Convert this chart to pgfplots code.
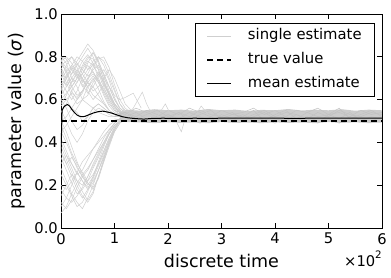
\documentclass[border=0pt]{standalone}
\usepackage{fontspec}
\setmainfont{DejaVu Sans}
\usepackage{pgfplots}
\usepackage{pgfplotstable}
\pgfplotsset{compat=1.18}
\definecolor{trc}{rgb}{0.81,0.81,0.81}
\definecolor{bandc}{rgb}{0.80,0.80,0.80}
\definecolor{tailc}{rgb}{0.76,0.76,0.76}

\pgfplotstableread{
name c0 c1 c2 c3 c4 c5 c6 c7 c8 c9 c10 c11 c12 c13 c14
t   0   10  20  30  40  50  60  70  80  90  100 110 120 135 150
U1  .78 .75 .72 .76 .80 .84 .80 .74 .68 .63 .58 .55 .53 .52 .52
U2  .80 .77 .70 .68 .74 .78 .76 .72 .66 .60 .56 .54 .53 .52 .52
U3  .72 .70 .74 .78 .82 .86 .83 .78 .72 .66 .60 .56 .54 .53 .52
U4  .76 .74 .66 .62 .64 .70 .72 .69 .63 .58 .55 .53 .52 .52 .52
U5  .68 .64 .60 .64 .70 .74 .78 .80 .76 .70 .64 .58 .55 .53 .52
U6  .62 .66 .70 .66 .60 .62 .68 .72 .68 .62 .57 .54 .53 .52 .52
U7  .74 .68 .62 .58 .60 .66 .70 .65 .59 .55 .53 .52 .52 .52 .52
U8  .58 .62 .68 .72 .70 .66 .62 .60 .58 .55 .53 .52 .52 .52 .52
U9  .70 .73 .76 .72 .66 .70 .74 .76 .72 .66 .60 .56 .54 .53 .52
U10 .66 .60 .56 .60 .64 .68 .66 .62 .58 .55 .53 .52 .52 .52 .52
U11 .54 .58 .64 .68 .72 .76 .73 .68 .62 .57 .54 .53 .52 .52 .52
U12 .79 .72 .66 .70 .76 .80 .79 .75 .70 .66 .62 .60 .61 .63 .56
U13 .76 .78 .80 .77 .72 .68 .64 .66 .70 .74 .70 .64 .58 .54 .53
U14 .64 .70 .76 .80 .78 .74 .76 .80 .78 .72 .65 .58 .54 .53 .52
U15 .73 .66 .70 .74 .70 .64 .60 .63 .67 .63 .58 .55 .53 .52 .52
U16 .80 .79 .74 .70 .72 .77 .82 .78 .71 .64 .58 .55 .53 .52 .52
U17 .66 .71 .75 .71 .67 .63 .66 .71 .74 .69 .61 .56 .54 .53 .52
U18 .77 .73 .68 .73 .78 .81 .77 .70 .64 .59 .55 .53 .52 .52 .52
U19 .60 .63 .66 .70 .75 .79 .82 .77 .69 .62 .57 .54 .53 .52 .52
U20 .70 .76 .80 .75 .69 .66 .69 .73 .69 .63 .58 .55 .53 .52 .52
U21 .75 .70 .64 .60 .63 .69 .75 .79 .80 .75 .67 .60 .56 .53 .52
U22 .57 .60 .63 .61 .64 .68 .71 .68 .64 .60 .56 .54 .53 .52 .52
U23 .69 .67 .72 .77 .74 .71 .73 .69 .65 .61 .57 .54 .53 .52 .52
U24 .78 .80 .77 .73 .68 .72 .77 .74 .67 .62 .58 .55 .53 .52 .52
M1  .50 .52 .56 .54 .50 .52 .56 .58 .56 .54 .53 .52 .52 .52 .52
M2  .45 .48 .52 .56 .60 .58 .56 .54 .53 .52 .52 .52 .52 .52 .52
M3  .60 .56 .50 .46 .48 .52 .56 .58 .56 .54 .53 .52 .52 .52 .52
M4  .55 .50 .44 .40 .44 .50 .54 .56 .55 .53 .52 .52 .52 .52 .52
L1  .35 .30 .24 .18 .14 .18 .24 .30 .36 .42 .47 .50 .51 .52 .52
L2  .40 .34 .28 .22 .20 .24 .30 .35 .40 .45 .49 .51 .52 .52 .52
L3  .28 .22 .16 .12 .09 .14 .20 .27 .34 .41 .47 .50 .51 .52 .52
L4  .45 .40 .34 .28 .24 .27 .32 .37 .42 .46 .49 .51 .52 .52 .52
L5  .20 .18 .22 .26 .22 .18 .21 .27 .33 .40 .46 .50 .51 .52 .52
L6  .10 .14 .20 .26 .31 .34 .37 .40 .43 .46 .49 .51 .52 .52 .52
L7  .07 .10 .16 .21 .25 .28 .32 .36 .40 .44 .48 .50 .51 .52 .52
L8  .38 .32 .26 .20 .15 .12 .16 .24 .32 .40 .46 .50 .51 .52 .52
L9  .30 .34 .30 .26 .22 .19 .22 .27 .33 .39 .45 .49 .51 .52 .52
L10 .42 .36 .30 .25 .27 .32 .37 .41 .45 .48 .50 .51 .52 .52 .52
L11 .15 .20 .25 .22 .17 .13 .17 .24 .31 .38 .45 .49 .51 .52 .52
L12 .48 .42 .35 .30 .26 .22 .25 .30 .36 .42 .47 .50 .51 .52 .52
L13 .25 .20 .15 .10 .12 .17 .23 .29 .35 .41 .46 .50 .51 .52 .52
L14 .33 .27 .21 .16 .18 .22 .28 .33 .39 .44 .48 .50 .51 .52 .52
L15 .18 .14 .12 .15 .19 .24 .29 .34 .39 .44 .48 .50 .51 .52 .52
L16 .50 .45 .38 .31 .25 .21 .19 .23 .31 .39 .46 .50 .51 .52 .52
L17 .12 .09 .13 .19 .24 .21 .18 .24 .32 .40 .46 .50 .51 .52 .52
L18 .36 .30 .33 .29 .24 .20 .24 .31 .38 .44 .48 .50 .51 .52 .52
}\rawtr
\pgfplotstabletranspose[colnames from=name]\traces{\rawtr}

\pgfplotstableread{
name d0 d1 d2 d3 d4 d5 d6 d7 d8 d9 d10 d11 d12 d13 d14 d15 d16 d17 d18 d19 d20 d21 d22 d23 d24 d25
t  100 120 140 160 180 200 220 240 260 280 300 320 340 360 380 400 420 440 460 480 500 520 540 560 580 600
N1 .53 .54 .52 .55 .53 .51 .54 .52 .55 .53 .52 .54 .51 .53 .55 .52 .54 .53 .51 .54 .52 .55 .53 .52 .54 .53
N2 .51 .50 .52 .50 .51 .53 .50 .51 .49 .52 .50 .51 .53 .50 .51 .49 .52 .50 .52 .50 .51 .49 .52 .51 .50 .52
N3 .55 .53 .56 .54 .52 .55 .53 .56 .54 .52 .55 .53 .54 .56 .53 .55 .52 .55 .54 .56 .53 .54 .52 .55 .53 .54
N4 .52 .54 .51 .53 .55 .52 .54 .50 .53 .55 .51 .53 .52 .55 .50 .53 .55 .51 .54 .52 .53 .56 .51 .53 .55 .52
N5 .50 .52 .54 .51 .50 .53 .51 .54 .52 .50 .53 .51 .50 .52 .54 .51 .50 .53 .51 .49 .53 .51 .54 .50 .52 .51
}\rawtail
\pgfplotstabletranspose[colnames from=name]\tails{\rawtail}

\begin{document}
\begin{tikzpicture}
\begin{axis}[
  name=ax, at={(0,0)}, anchor=south west,
  scale only axis, width=321pt, height=214pt,
  xmin=0, xmax=600, ymin=0, ymax=1,
  xtick={0,100,200,300,400,500,600}, xticklabels={0,1,2,3,4,5,6},
  ytick={0,0.2,0.4,0.6,0.8,1}, yticklabels={0.0,0.2,0.4,0.6,0.8,1.0},
  tick align=inside, tick pos=both, major tick length=5pt,
  axis line style={line width=0.8pt},
  tick style={black, line width=0.7pt},
  ticklabel style={font=\fontsize{14.7}{17}\selectfont, inner sep=0pt},
  yticklabel style={xshift=-3pt},
  xticklabel style={yshift=-5pt},
  legend cell align=left,
  legend image code/.code={\draw[#1] (0pt,0pt) -- (24pt,0pt);},
  legend style={at={(0.978,0.958)}, anchor=north east, draw=black, line width=0.6pt,
    font=\fontsize{14.8}{17}\selectfont, inner xsep=11pt, inner ysep=4.2pt,
    row sep=7pt, column sep=14pt,
    nodes={inner xsep=2pt, inner ysep=1pt, text height=11.5pt, text depth=3.5pt}},
  tr/.style={trc, line width=0.5pt, forget plot},
]
\addlegendimage{trc, line width=0.6pt}
\addlegendentry{single estimate}
\addlegendimage{black, line width=1.6pt, dash pattern=on 6pt off 4pt}
\addlegendentry{true value}
\addlegendimage{black, line width=1.0pt}
\addlegendentry{mean estimate}

% dense band of converged estimates
\addplot[fill=bandc, draw=none, forget plot] coordinates {
(110,0.545)(125,0.552)(150,0.548)(175,0.555)(200,0.550)(225,0.553)(250,0.548)(275,0.556)(300,0.550)(325,0.553)(350,0.547)(375,0.552)(400,0.550)(425,0.556)(450,0.549)(475,0.553)(500,0.550)(525,0.555)(550,0.548)(575,0.553)(600,0.550)
(600,0.493)(575,0.490)(550,0.494)(525,0.491)(500,0.495)(475,0.490)(450,0.493)(425,0.491)(400,0.494)(375,0.490)(350,0.493)(325,0.491)(300,0.495)(275,0.490)(250,0.493)(225,0.491)(200,0.494)(175,0.490)(150,0.493)(125,0.495)(110,0.498)
} -- cycle;

\pgfplotsinvokeforeach{U1,U2,U3,U4,U5,U6,U7,U8,U9,U10,U11,U12,U13,U14,U15,U16,U17,U18,U19,U20,U21,U22,U23,U24,M1,M2,M3,M4,L1,L2,L3,L4,L5,L6,L7,L8,L9,L10,L11,L12,L13,L14,L15,L16,L17,L18}{
  \addplot[tr] table[x=t, y=#1] {\traces};
}
\pgfplotsinvokeforeach{N1,N2,N3,N4,N5}{
  \addplot[tailc, line width=0.5pt, forget plot] table[x=t, y=#1] {\tails};
}
\addplot[tr] coordinates {(120,0.52)(135,0.56)(152,0.635)(160,0.58)(170,0.53)(185,0.52)};
\addplot[tr] coordinates {(180,0.52)(195,0.58)(205,0.53)};
\addplot[tr] coordinates {(250,0.52)(262,0.57)(275,0.53)};
\addplot[tr] coordinates {(215,0.50)(225,0.45)(232,0.51)};

\addplot[black, line width=1.6pt, dash pattern=on 6pt off 4pt, forget plot] coordinates {(0,0.5)(600,0.5)};

\addplot[black, line width=1.0pt, forget plot] coordinates {
(0,0.35)(2,0.55)(5,0.565)(8,0.572)(12,0.577)(16,0.570)(20,0.555)(25,0.540)(30,0.528)(35,0.522)(40,0.520)(45,0.522)(50,0.527)(60,0.537)(70,0.544)(78,0.546)(85,0.543)(95,0.537)(105,0.528)(115,0.520)(125,0.515)(140,0.511)(155,0.509)(170,0.512)(190,0.513)(220,0.512)(250,0.513)(280,0.512)(310,0.514)(340,0.513)(370,0.513)(400,0.514)(430,0.512)(460,0.513)(490,0.514)(520,0.513)(550,0.514)(580,0.513)(600,0.514)
};
\end{axis}
\node[rotate=90, anchor=base] at ([xshift=-39.5pt]ax.west) {\fontsize{17.5}{20}\selectfont parameter value (\textit{σ})};
\node[anchor=base] at ([yshift=-39pt]ax.south) {\fontsize{17.5}{20}\selectfont discrete time};
\node[anchor=base east, inner sep=0pt] at ([yshift=-38pt]ax.south east) {\fontsize{14.7}{17}\selectfont ×10\raisebox{0.5em}{\fontsize{10.3}{12}\selectfont 2}};
\pgfresetboundingbox
\path (-61pt,-49pt) rectangle (330pt,228pt);
\end{tikzpicture}
\end{document}
